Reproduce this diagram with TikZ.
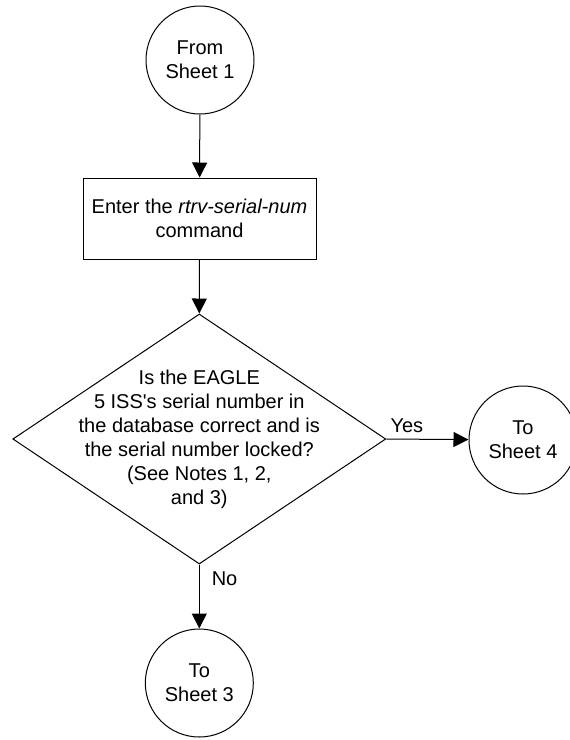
\documentclass[tikz,border=0pt]{standalone}
\usepackage{fontspec}
\setmainfont{Liberation Sans}
\usetikzlibrary{shapes.geometric,arrows.meta}
\begin{document}
\begin{tikzpicture}[x=1pt,y=-1pt,
  every node/.style={font=\fontsize{20}{24}\selectfont},
  conn/.style={draw, circle, line width=1pt, minimum size=108pt, inner sep=0pt, align=center},
  procbox/.style={draw, rectangle, line width=1pt, minimum width=233pt, minimum height=81pt, inner sep=0pt, align=center},
  decision/.style={draw, diamond, line width=1pt, minimum width=373pt, minimum height=250pt, inner sep=0pt},
  flow/.style={line width=1pt, -{Triangle[length=15pt,width=15pt]}},
  lbl/.style={inner sep=0pt}]
\useasboundingbox (0,0) rectangle (570,740);
\node[conn] (s1) at (200,60) {From\\Sheet 1};
\node[procbox] (cmd) at (199.5,218.5) {Enter the \textit{rtrv-serial-num}\\command};
\node[decision] (dec) at (199.3,439) {};
\node[align=center, inner sep=0pt] (dtext) at (dec.center) {Is the EAGLE\\5 ISS\textquotesingle s serial number in\\the database correct and is\\the serial number locked?\\(See Notes 1, 2,\\and 3)};
\node[conn] (s4) at (523,440) {To\\Sheet 4};
\node[conn] (s3) at (199.3,683) {To\\Sheet 3};
\draw[flow] (s1) -- (cmd);
\draw[flow] (cmd) -- (dec.north);
\draw[flow] (dec.east) -- (s4) node[lbl, pos=0.25, above=6pt] (yes) {Yes};
\draw[flow] (dec.south) -- (s3) node[lbl, pos=0.22, right=12pt] (no) {No};
\end{tikzpicture}
\end{document}
